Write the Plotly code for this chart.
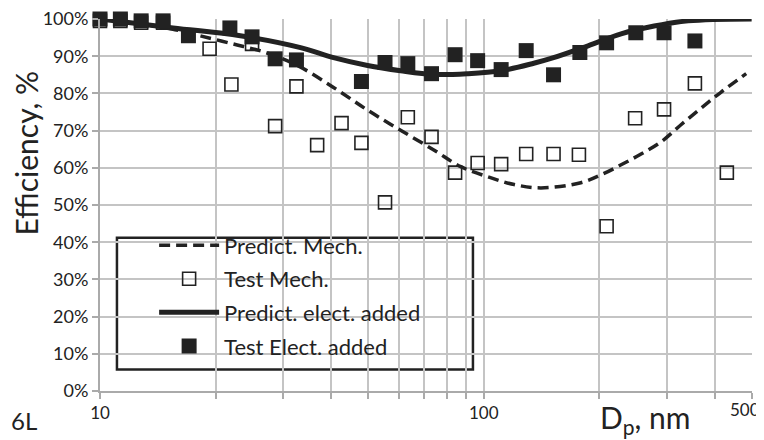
import plotly.graph_objects as go

# Predicted curves (particle diameter nm, efficiency %)
mech_x = [10, 12.7, 15.4, 18.2, 22.2, 27.0, 32.7, 40.6, 49.8, 60.7, 74.1, 87.1,
          102.4, 120, 141, 179, 202, 228, 257, 290, 326, 368, 415, 483]
mech_y = [100, 98.7, 97.3, 95.5, 93.3, 91, 87.5, 81.6, 75.5, 70.1, 64.8, 60.3,
          57.6, 55.5, 54.6, 56, 58.1, 60.8, 63.7, 67, 71.5, 76, 80.3, 85.3]

elec_x = [10, 15.5, 23.2, 33.3, 40.6, 49.8, 60.7, 74.1, 90.6, 111, 135, 152,
          187, 228, 278, 341, 499]
elec_y = [100, 97.6, 95.5, 92.3, 89.6, 87.5, 86.1, 85.1, 85.3, 86.1, 88.1, 89.6,
          92.8, 96, 98.1, 99.5, 100]

# Test points
test_mech_x = [10, 11.3, 12.8, 14.6, 19.3, 22, 24.9, 28.6, 32.5, 36.8, 42.6, 48,
               55.3, 63.4, 73.1, 84.2, 96.4, 111, 129, 152, 177, 209, 248, 295, 355, 430]
test_mech_y = [99.5, 99.5, 99, 99, 92, 82.4, 93.3, 71.2, 81.9, 66.1, 72, 66.7,
               50.7, 73.6, 68.3, 58.7, 61.3, 61, 63.7, 63.7, 63.5, 44.3, 73.3, 75.7, 82.7, 58.7]

test_elec_x = [10, 11.3, 12.8, 14.6, 17.0, 21.8, 24.9, 28.6, 32.5, 48, 55.3, 63.4,
               73.1, 84.2, 96.4, 111, 129, 152, 178, 209, 249, 295, 355]
test_elec_y = [100, 100, 99.5, 99.5, 95.5, 97.6, 95.2, 89.3, 89, 83.2, 88.3, 88,
               85.3, 90.4, 88.8, 86.4, 91.5, 85, 91, 93.6, 96.3, 96.3, 94.1]

x_ticks = [10, 20, 30, 40, 50, 60, 70, 80, 90, 100, 200, 300, 400, 500]
x_labels = ["10", "", "", "", "", "", "", "", "", "100", "", "", "", ""]

ink = "#222222"
fnt = "Lato"

fig = go.Figure()
fig.add_trace(go.Scatter(x=mech_x, y=mech_y, mode="lines", name="Predict. Mech.",
                         line=dict(color=ink, width=3.5, dash="11px,6px", shape="spline"),
                         legendgroup="a"))
fig.add_trace(go.Scatter(x=test_mech_x, y=test_mech_y, mode="markers", name="Test Mech.",
                         marker=dict(symbol="square-open", size=13, color=ink, line=dict(width=1.6)),
                         cliponaxis=False, legendgroup="b"))
fig.add_trace(go.Scatter(x=elec_x, y=elec_y, mode="lines", name="Predict. elect. added",
                         line=dict(color=ink, width=5, shape="spline"), legendgroup="c"))
fig.add_trace(go.Scatter(x=test_elec_x, y=test_elec_y, mode="markers", name="Test Elect. added",
                         marker=dict(symbol="square", size=15, color=ink),
                         cliponaxis=False, legendgroup="d"))

# page body has an 8px margin, so the figure is 8px smaller to fit the window
fig.update_layout(
    width=756, height=432,
    margin=dict(l=92, r=12, t=11, b=49),
    plot_bgcolor="white", paper_bgcolor="white",
    font=dict(family=fnt, color="#333333"),
    showlegend=True,
    legend=dict(x=0.083, y=0.448, xanchor="left", yanchor="top",
                bgcolor="rgba(0,0,0,0)", borderwidth=0,
                font=dict(size=22, color="#222222"), traceorder="grouped",
                tracegroupgap=2, itemwidth=60),
    xaxis=dict(type="log", range=[1, 2.699], tickvals=x_ticks, ticktext=x_labels,
               showgrid=True, gridcolor="#c4c4c4", gridwidth=2,
               showline=True, linecolor="#aaaaaa", linewidth=2,
               ticks="outside", ticklen=6, tickcolor="#aaaaaa", tickwidth=2,
               tickfont=dict(size=17, color="#222222"), ticklabelstandoff=0,
               ticklabeloverflow="allow", automargin=False, zeroline=False),
    yaxis=dict(range=[0, 100], dtick=10, ticksuffix="%",
               showgrid=True, gridcolor="#c4c4c4", gridwidth=2,
               showline=True, linecolor="#aaaaaa", linewidth=2,
               ticks="outside", ticklen=6, tickcolor="#aaaaaa", tickwidth=2,
               tickfont=dict(size=18, color="#222222"),
               ticklabeloverflow="allow", automargin=False, zeroline=False),
)

# legend frame
fig.add_shape(type="rect", xref="paper", yref="paper", x0=0.026, x1=0.572,
              y0=0.0577, y1=0.412, fillcolor="white",
              line=dict(color="#222222", width=2.5), layer="between")

fig.add_annotation(text="500", xref="x", yref="paper", x=2.699, y=-0.0504,
                   xanchor="right", yanchor="middle", xshift=10, showarrow=False,
                   font=dict(size=17, color="#222222", family=fnt))
fig.add_annotation(text="Efficiency, %", textangle=-90, xref="paper", yref="paper",
                   x=-0.114, y=0.64, xanchor="center", yanchor="middle", showarrow=False,
                   font=dict(size=30, color="#222222", family=fnt))
fig.add_annotation(text="D<sub>p</sub>, nm", xref="paper", yref="paper",
                   x=0.836, y=-0.0766, xanchor="center", yanchor="middle", showarrow=False,
                   font=dict(size=30, color="#222222", family=fnt))
fig.add_annotation(text="6L", xref="paper", yref="paper",
                   x=-0.117, y=-0.0797, xanchor="center", yanchor="middle", showarrow=False,
                   font=dict(size=24, color="#222222", family=fnt))

fig.write_html("out.html")
